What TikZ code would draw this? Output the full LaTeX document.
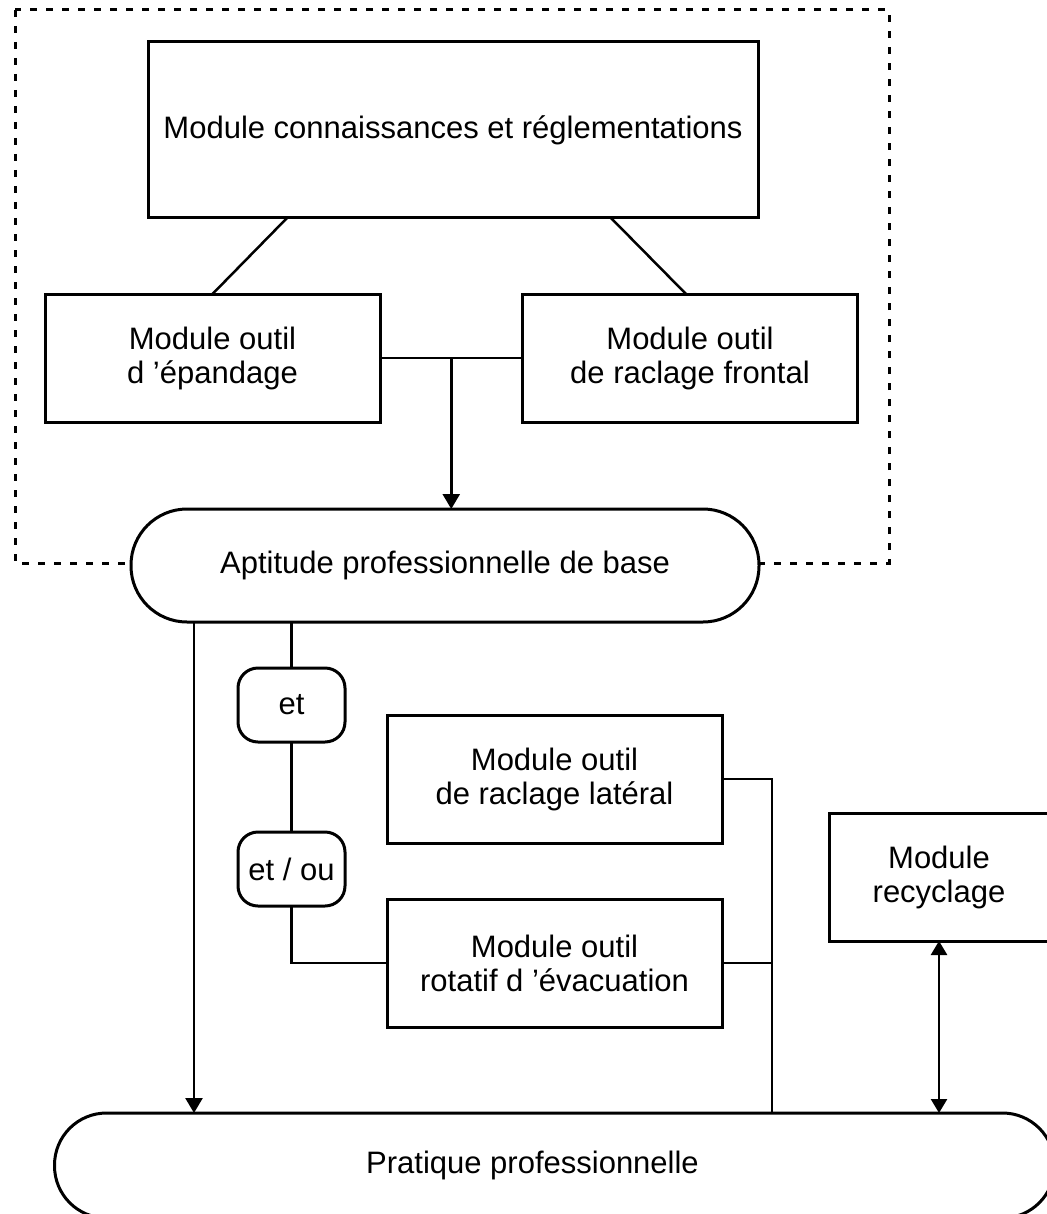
\documentclass[tikz,border=0pt]{standalone}
\usepackage{fontspec}
\setmainfont{Liberation Sans}
\usetikzlibrary{positioning,arrows.meta}

\begin{document}
\begin{tikzpicture}[
    font=\fontsize{15.5}{17}\selectfont,
    outer sep=0pt,
    bx/.style={
        draw, line width=1.5pt, fill=white,
        minimum width=167.5pt, minimum height=64pt,
        align=center, inner sep=0pt
    },
    pl/.style={
        draw, line width=1.5pt, fill=white,
        rounded corners=28pt, minimum height=56.5pt
    },
    rt/.style={
        draw, line width=1.5pt, fill=white, rounded corners=10pt,
        minimum width=53.5pt, minimum height=37pt, inner sep=0pt
    },
    l/.style={line width=1.25pt},
    la/.style={l, -{Triangle[length=7.5pt,width=8.5pt]}},
    d/.style={dash pattern=on 3.5pt off 4.5pt, line width=1.5pt}
]
\useasboundingbox (0,0) rectangle (523pt,-607pt);

\draw [d] (7.5pt,-5pt) rectangle (444.5pt,-281.5pt);

\node [bx, minimum width=305pt, minimum height=88pt] (conn) at (226.5pt,-65pt) {Module connaissances et réglementations};
\node [bx, below=38pt of conn, xshift=-120.25pt] (epand) {Module outil\\d ’épandage};
\node [bx, below=38pt of conn, xshift=118.5pt] (frontal) {Module outil\\de raclage frontal};
\node [pl, minimum width=314pt, below=145.5pt of conn, xshift=-4pt] (apt) {Aptitude professionnelle de base};

\node [rt, below=23pt of apt, xshift=-76.75pt] (et) {et};
\node [rt, below=45pt of et] (etou) {et / ou};
\node [bx, below=46.5pt of apt, xshift=54.75pt] (lateral) {Module outil\\de raclage latéral};
\node [bx, below=28pt of lateral] (rotatif) {Module outil\\rotatif d ’évacuation};
\node [bx, minimum width=110pt, right=53.5pt of lateral, yshift=-49pt] (recyc) {Module\\recyclage};
\node [pl, minimum width=500pt, minimum height=52.5pt, rounded corners=26pt, below=43pt of rotatif,
    label={[xshift=-11pt]center:Pratique professionnelle}] (prat) {};

\draw [l] ([xshift=-83pt]conn.south) -- (epand.north);
\draw [l] ([xshift=79pt]conn.south) -- ([xshift=-2pt]frontal.north);
\draw [l] (epand.east) -- coordinate (join) (frontal.west);
\draw [la] (join) -- (join |- apt.north);

\coordinate (aleft) at ([xshift=31.5pt]apt.south west);
\draw [la] (aleft) -- (aleft |- prat.north);

\draw [l] (et.north) -- (et.north |- apt.south);
\draw [l] (et) -- (etou);
\draw [l] (etou.south) |- (rotatif.west);

\draw [l] (lateral.east) -- ++(25pt,0) coordinate (bus) -- (bus |- prat.north);
\draw [l] (rotatif.east) -- (rotatif.east -| bus);

\draw [l, {Triangle[length=7pt,width=8pt]}-{Triangle[length=7pt,width=8pt]}] (recyc.south) -- (recyc.south |- prat.north);

\end{tikzpicture}
\end{document}
